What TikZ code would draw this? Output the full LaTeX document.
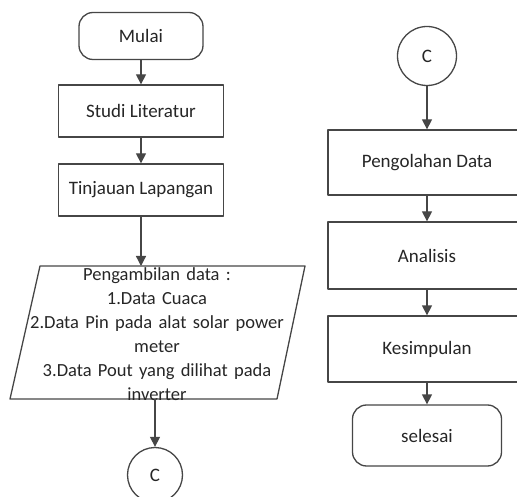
\documentclass[tikz,border=0pt]{standalone}
\usepackage{fontspec}
\setmainfont{Carlito}
\usetikzlibrary{arrows.meta}
\newcommand{\datafont}{\fontsize{18.5}{24}\selectfont\spaceskip=0.34em\relax}
\begin{document}
\begin{tikzpicture}[x=1pt, y=-1pt, line join=round,
  box/.style={draw=flowgray, line width=1.3pt, fill=white, text=black!85,
    font=\fontsize{19}{22}\selectfont, inner sep=0pt},
  term/.style={box, rounded corners=14pt},
  conn/.style={box, circle},
  flow/.style={draw=flowgray, line width=1.3pt, -{Triangle[width=10pt,length=10pt]}}]
  \definecolor{flowgray}{RGB}{70,70,70}
  \useasboundingbox (0,0) rectangle (517,497);
  \clip (0,0) rectangle (517,497);

  \node[term, minimum width=124pt, minimum height=47pt] (mulai) at (141,36) {Mulai};
  \node[box, minimum width=165pt, minimum height=52pt] (studi) at (141,111) {Studi Literatur};
  \node[box, minimum width=165pt, minimum height=52pt] (tinjauan) at (141,190) {Tinjauan Lapangan};
  \coordinate (datain) at (141,266);
  \coordinate (dataout) at (155,399);
  \draw[draw=flowgray, line width=1.3pt] (40,266) -- (305,266) -- (277,399) -- (10,399) -- cycle;
  \node[text=black!85, font=\datafont, align=center] (data) at (157,334)
    {Pengambilan data :\\1.Data Cuaca\\2.Data Pin pada alat solar power\\meter\\3.Data Pout yang dilihat pada\\inverter};
  \node[conn, minimum size=55pt] (c1) at (155,475) {C};

  \node[conn, minimum size=59pt] (c2) at (427,56) {C};
  \node[box, minimum width=198pt, minimum height=65pt] (pengolahan) at (427,162.5) {Pengolahan Data};
  \node[box, minimum width=198pt, minimum height=67pt] (analisis) at (427,255.5) {Analisis};
  \node[box, minimum width=198pt, minimum height=66pt] (kesimpulan) at (427,349) {Kesimpulan};
  \node[term, minimum width=149pt, minimum height=61pt] (selesai) at (427,435.5) {selesai};

  \draw[flow] (mulai) -- (studi);
  \draw[flow] (studi) -- (tinjauan);
  \draw[flow] (tinjauan) -- (datain);
  \draw[flow] (dataout) -- (c1);
  \draw[flow] (c2) -- (pengolahan);
  \draw[flow] (pengolahan) -- (analisis);
  \draw[flow] (analisis) -- (kesimpulan);
  \draw[flow] (kesimpulan) -- (selesai);
\end{tikzpicture}
\end{document}
